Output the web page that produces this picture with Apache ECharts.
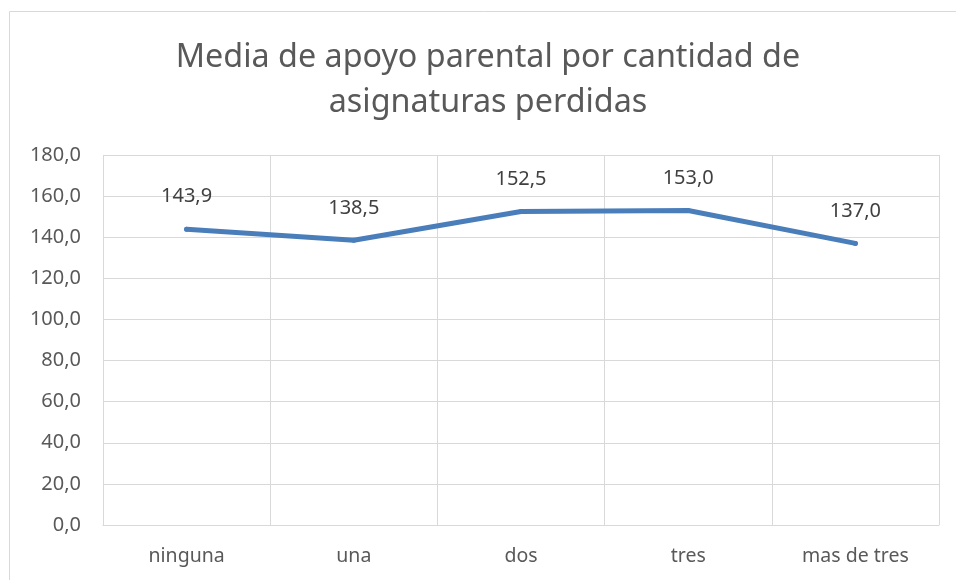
<!DOCTYPE html>
<html>
<head>
    <meta charset="utf-8">
    <style>
        body { margin: 0; background: #fff; }
        #main { width: 956px; height: 580px; }
    </style>
    <script src="https://cdn.jsdelivr.net/npm/echarts@6/dist/echarts.min.js"></script>
</head>
<body>
    <div id="main"></div>
    <script type="text/javascript">
        // datos
        var categorias = ['ninguna', 'una', 'dos', 'tres', 'mas de tres'];
        var medias = [143.9, 138.5, 152.5, 153.0, 137.0];
        var titulo = 'Media de apoyo parental por cantidad de\nasignaturas perdidas';

        var fuente = 'Noto Sans';
        var myChart = echarts.init(document.getElementById('main'));

        var option = {
            backgroundColor: '#fff',
            animation: false,
            title: {
                text: titulo,
                // centro del titulo en x=488
                left: 488,
                textAlign: 'center',
                top: 35,
                padding: 0,
                textStyle: {
                    fontFamily: fuente,
                    fontSize: 32.3,
                    fontWeight: 'normal',
                    color: '#595959',
                    lineHeight: 45
                }
            },
            graphic: [{
                type: 'rect',
                shape: { x: 9.5, y: 11.5, width: 960, height: 600 },
                style: { fill: 'none', stroke: '#d9d9d9', lineWidth: 1 },
                silent: true
            }],
            grid: {
                left: 103,
                right: 17,
                top: 155,
                bottom: 55
            },
            xAxis: {
                type: 'category',
                data: categorias,
                boundaryGap: true,
                axisLine: { lineStyle: { color: '#d9d9d9' } },
                axisTick: { show: false },
                splitLine: { show: true, lineStyle: { color: '#d9d9d9', width: 1 } },
                axisLabel: {
                    fontFamily: fuente,
                    fontSize: 19.5,
                    color: '#595959',
                    margin: 21
                }
            },
            yAxis: {
                type: 'value',
                min: 0,
                max: 180,
                interval: 20,
                axisLine: { show: false },
                axisTick: { show: false },
                splitLine: { lineStyle: { color: '#d9d9d9', width: 1 } },
                axisLabel: {
                    fontFamily: fuente,
                    fontSize: 20,
                    color: '#595959',
                    margin: 22,
                    formatter: function (v) { return v.toFixed(1).replace('.', ','); }
                }
            },
            series: [{
                type: 'line',
                data: medias,
                symbol: 'circle',
                symbolSize: 5,
                itemStyle: { color: '#4a7ebb' },
                lineStyle: { color: '#4a7ebb', width: 5, cap: 'round', join: 'round' },
                label: {
                    show: true,
                    position: 'top',
                    distance: 20,
                    fontFamily: fuente,
                    fontSize: 20,
                    color: '#404040',
                    formatter: function (p) { return p.value.toFixed(1).replace('.', ','); }
                }
            }]
        };

        myChart.setOption(option);
    </script>
</body>
</html>
